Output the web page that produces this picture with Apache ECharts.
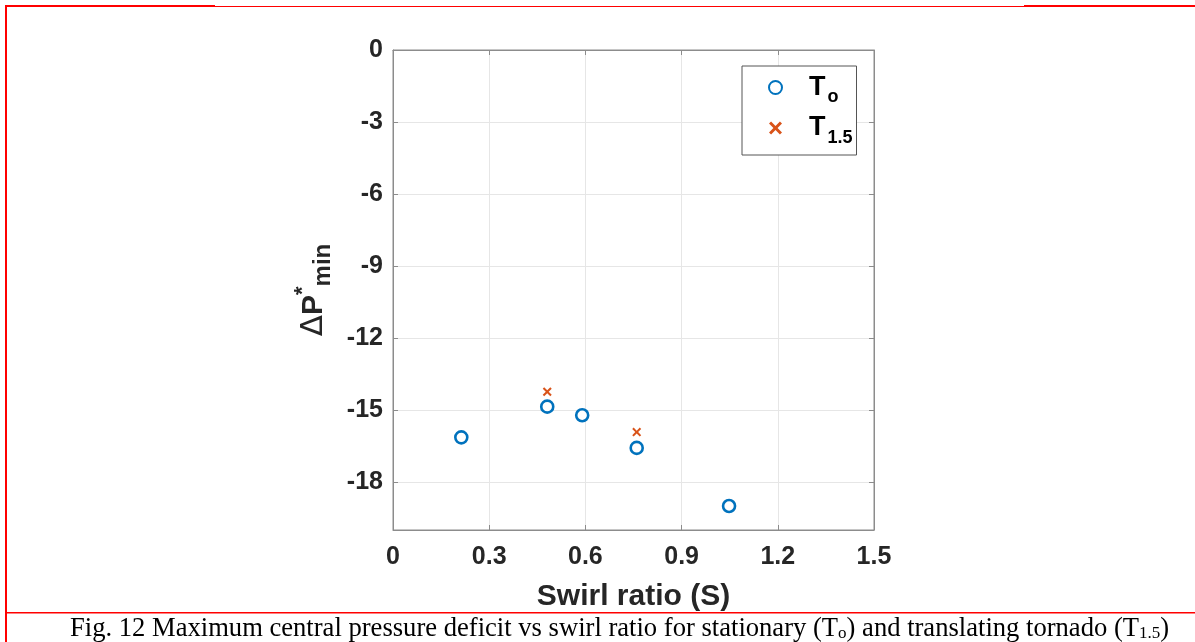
<!DOCTYPE html>
<html>
<head>
<meta charset="utf-8">
<script src="https://cdn.jsdelivr.net/npm/echarts@6/dist/echarts.min.js"></script>
<style>
  html, body { margin: 0; padding: 0; background: #fff; }
  #main { width: 1195px; height: 642px; }
</style>
</head>
<body>
<div id="main"></div>
<script>
// stationary tornado (T_o)
var swirlTo = [0.213, 0.481, 0.590, 0.760, 1.048];
var dpTo = [-16.14, -14.86, -15.22, -16.58, -19.0];
// translating tornado (T_1.5)
var swirl15 = [0.481, 0.760];
var dp15 = [-14.24, -15.92];

var xTicks = [0, 0.3, 0.6, 0.9, 1.2, 1.5];
var yTicks = [0, -3, -6, -9, -12, -15, -18];

var axisGrey = '#8c8c8c';
var txt = '#262626';
var red = '#ff0000';

var crossPath = 'path://M0,1.6L1.6,0L5,3.4L8.4,0L10,1.6L6.6,5L10,8.4L8.4,10L5,6.6L1.6,10L0,8.4L3.4,5Z';

var myChart = echarts.init(document.getElementById('main'));

var option = {
  animation: false,
  grid: {
    left: 393, top: 50, width: 481, height: 480,
    show: true, borderColor: axisGrey, borderWidth: 1
  },
  legend: {
    orient: 'vertical',
    left: 742, top: 66,
    padding: [8, 4, 8, 26],
    itemGap: 8,
    itemWidth: 13, itemHeight: 13,
    borderColor: '#555', borderWidth: 1,
    backgroundColor: '#fff',
    data: ['To', 'T15'],
    formatter: function (name) {
      return name === 'To' ? '{a|T}{b|o}' : '{a|T}{b|1.5}';
    },
    textStyle: {
      rich: {
        a: { fontFamily: 'Liberation Sans', fontWeight: 'bold', fontSize: 27, color: '#000', padding: [0, 0, 0, 22] },
        b: { fontFamily: 'Liberation Sans', fontWeight: 'bold', fontSize: 18, color: '#000', padding: [20, 0, 0, 2] }
      }
    }
  },
  xAxis: [{
    type: 'value', min: 0, max: 1.5, interval: 0.3,
    name: 'Swirl ratio (S)', nameLocation: 'middle', nameGap: 52,
    nameTextStyle: { fontFamily: 'Liberation Sans', fontWeight: 'bold', fontSize: 30, color: txt },
    axisLine: { show: true, onZero: false, lineStyle: { color: axisGrey } },
    axisTick: { show: true, inside: true, length: 5, lineStyle: { color: axisGrey } },
    axisLabel: {
      margin: 15, fontFamily: 'Liberation Sans', fontWeight: 'bold', fontSize: 25, color: txt,
      formatter: function (v) { return v === 0 ? '0' : v.toFixed(1); }
    },
    splitLine: { show: true, lineStyle: { color: '#e6e6e6' } }
  }, {
    type: 'value', position: 'top', min: 0, max: 1.5, interval: 0.3,
    axisLine: { show: true, onZero: false, lineStyle: { color: axisGrey } },
    axisTick: { show: true, inside: true, length: 5, lineStyle: { color: axisGrey } },
    axisLabel: { show: false }, splitLine: { show: false }
  }],
  yAxis: [{
    type: 'value', min: -20, max: 0,
    name: '{d|Δ}{p|P}{sup|*}{sub|min}', nameLocation: 'middle', nameGap: 57, nameRotate: 90,
    nameTextStyle: {
      rich: {
        d: { fontFamily: 'DejaVu Sans', fontSize: 31, color: txt },
        p: { fontFamily: 'Liberation Sans', fontWeight: 'bold', fontSize: 30, color: txt },
        sup: { fontFamily: 'Liberation Sans', fontWeight: 'bold', fontSize: 22, color: txt, padding: [0, 0, 22, 0] },
        sub: { fontFamily: 'Liberation Sans', fontWeight: 'bold', fontSize: 24, color: txt, padding: [18, 0, 0, 0] }
      }
    },
    axisLine: { show: true, onZero: false, lineStyle: { color: axisGrey } },
    axisTick: { show: true, inside: true, length: 5, customValues: yTicks, lineStyle: { color: axisGrey } },
    axisLabel: {
      margin: 10, fontFamily: 'Liberation Sans', fontWeight: 'bold', fontSize: 25, color: txt,
      customValues: yTicks
    },
    splitLine: { show: true, lineStyle: { color: '#e6e6e6' } }
  }, {
    type: 'value', position: 'right', min: -20, max: 0,
    axisLine: { show: true, onZero: false, lineStyle: { color: axisGrey } },
    axisTick: { show: true, inside: true, length: 5, customValues: yTicks, lineStyle: { color: axisGrey } },
    axisLabel: { show: false }, splitLine: { show: false }
  }],
  series: [{
    name: 'To', type: 'scatter',
    symbol: 'circle', symbolSize: 12,
    itemStyle: { color: '#fff', borderColor: '#0072BD', borderWidth: 2.6, opacity: 1 },
    data: swirlTo.map(function (s, i) { return [s, dpTo[i]]; }),
    z: 3
  }, {
    name: 'T15', type: 'scatter',
    symbol: crossPath, symbolSize: 9,
    itemStyle: { color: '#D95319', opacity: 1 },
    data: swirl15.map(function (s, i) { return [s, dp15[i]]; }),
    z: 4
  }],
  graphic: [
    // page frame (red rules)
    { type: 'rect', shape: { x: 5, y: 5, width: 210, height: 2 }, style: { fill: red }, silent: true },
    { type: 'rect', shape: { x: 215, y: 6, width: 809, height: 1 }, style: { fill: red }, silent: true },
    { type: 'rect', shape: { x: 1024, y: 5, width: 171, height: 2 }, style: { fill: red }, silent: true },
    { type: 'rect', shape: { x: 5, y: 5, width: 2, height: 637 }, style: { fill: red }, silent: true },
    { type: 'rect', shape: { x: 5, y: 612, width: 1190, height: 1.5 }, style: { fill: red }, silent: true },
    {
      type: 'text', left: 70, top: 616,
      style: {
        text: '{n|Fig. 12 Maximum central pressure deficit vs swirl ratio for stationary (T}{s|o}{n|) and translating tornado (T}{s|1.5}{n|)}',
        rich: {
          n: { fontFamily: 'Liberation Serif', fontSize: 26.6, fill: '#000' },
          s: { fontFamily: 'Liberation Serif', fontSize: 17, fill: '#000', padding: [9, 0, 0, 0] }
        }
      }
    }
  ]
};

myChart.setOption(option);
</script>
</body>
</html>
